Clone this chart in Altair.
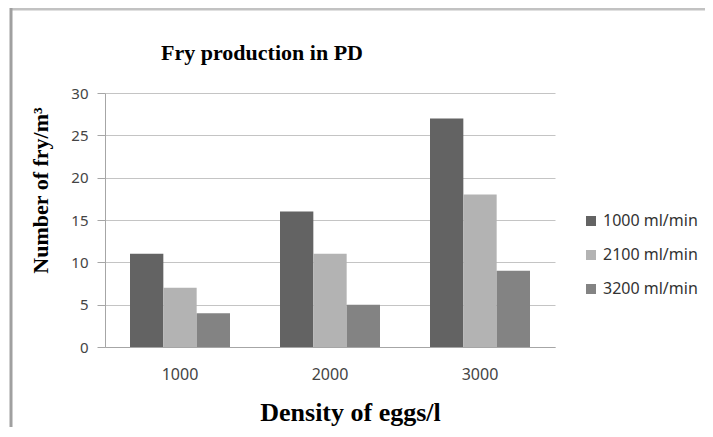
import altair as alt
import pandas as pd

densities = ["1000", "2000", "3000"]
flows = ["1000 ml/min", "2100 ml/min", "3200 ml/min"]
fry_1000 = [11, 16, 27]
fry_2100 = [7, 11, 18]
fry_3200 = [4, 5, 9]
colors = ["#636363", "#b3b3b3", "#838383"]
y_ticks = [0, 5, 10, 15, 20, 25, 30]

rows = []
for i, d in enumerate(densities):
    for f, vals in zip(flows, [fry_1000, fry_2100, fry_3200]):
        rows.append({"density": d, "flow": f, "fry": vals[i]})
df = pd.DataFrame(rows)

label_font = "Noto Sans"
title_font = "Liberation Serif"

bars = alt.Chart(df).mark_bar().encode(
    x=alt.X(
        "density:N",
        sort=densities,
        scale=alt.Scale(paddingInner=1 / 3, paddingOuter=1 / 6),
        axis=alt.Axis(
            title="Density of eggs/l",
            labelAngle=0,
            ticks=False,
            labelPadding=19,
            labelFont=label_font,
            labelFontSize=16,
            labelColor="#444444",
            domainColor="#a6a6a6",
            titleFont=title_font,
            titleFontSize=26,
            titleFontWeight="bold",
            titleColor="#000000",
            titleX=245,
            titleY=73,
            titleBaseline="alphabetic",
            titleAlign="center",
        ),
    ),
    xOffset=alt.XOffset("flow:N", sort=flows, scale=alt.Scale(paddingInner=0, paddingOuter=0)),
    y=alt.Y(
        "fry:Q",
        scale=alt.Scale(domain=[0, 30], nice=False),
        axis=alt.Axis(
            title="Number of fry/m³",
            values=y_ticks,
            tickSize=8,
            tickColor="#a6a6a6",
            domainColor="#a6a6a6",
            gridColor="#c4c4c4",
            labelPadding=9,
            labelFont=label_font,
            labelFontSize=15,
            labelColor="#444444",
            titleFont=title_font,
            titleFontSize=22,
            titleFontWeight="bold",
            titleColor="#000000",
            titleAngle=270,
            titleX=-65,
            titleY=97,
            titleAlign="center",
            titleBaseline="middle",
        ),
    ),
    color=alt.Color(
        "flow:N",
        sort=flows,
        scale=alt.Scale(domain=flows, range=colors),
        legend=alt.Legend(
            title=None,
            orient="none",
            legendX=478,
            legendY=120,
            symbolType="square",
            symbolSize=100,
            symbolStrokeWidth=0,
            labelFont=label_font,
            labelFontSize=16,
            labelColor="#333333",
            labelOffset=4,
            rowPadding=18,
        ),
    ),
)

frame_src = pd.DataFrame({"k": [0]})
top_line = alt.Chart(frame_src).mark_rule(color="#c2c2c2", strokeWidth=3).encode(
    x=alt.value(-94), x2=alt.value(608), y=alt.value(-84)
)
left_line = alt.Chart(frame_src).mark_rule(color="#a0a0a0", strokeWidth=3).encode(
    x=alt.value(-94), y=alt.value(-85), y2=alt.value(344)
)

chart = (
    alt.layer(top_line, left_line, bars)
    .properties(
        width=450,
        height=254,
        title=alt.TitleParams(
            "Fry production in PD",
            font=title_font,
            fontSize=22,
            fontWeight="bold",
            color="#000000",
            anchor="middle",
            frame="group",
            dx=-68,
            offset=-58,
        ),
        autosize=alt.AutoSizeParams(type="none"),
        padding={"left": 97, "top": 85, "right": 150, "bottom": 80},
    )
    .configure_view(stroke=None)
    .configure_axis(gridWidth=1)
)

chart.save("out.html", embed_options={"renderer": "svg", "actions": False})
